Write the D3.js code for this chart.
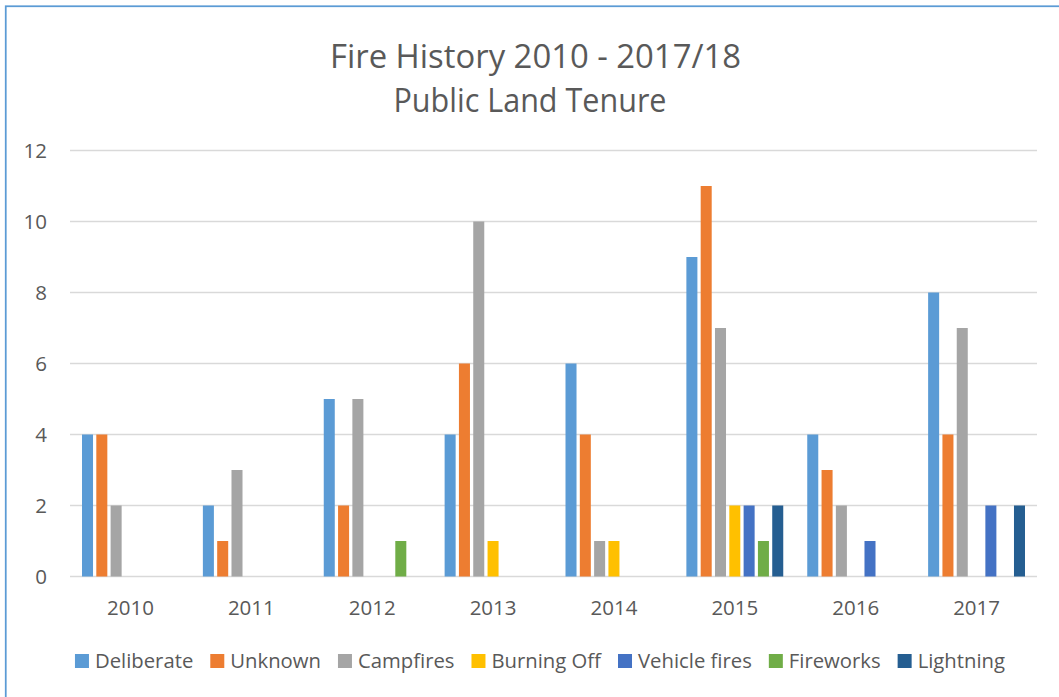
<!DOCTYPE html>
<html lang="en">
<head>
    <meta charset="UTF-8">
    <title>Fire History 2010 - 2017/18</title>
    <script src="https://d3js.org/d3.v7.min.js"></script>
    <style>
        body {
            margin: 0;
            overflow: hidden;
            background: #fff;
        }
        text {
            font-family: "Open Sans", sans-serif;
            fill: #595959;
        }
    </style>
</head>
<body>
    <script>
        // chart data
        const years = ["2010", "2011", "2012", "2013", "2014", "2015", "2016", "2017"];
        const causes = ["Deliberate", "Unknown", "Campfires", "Burning Off", "Vehicle fires", "Fireworks", "Lightning"];
        const colors = ["#5B9BD5", "#ED7D31", "#A5A5A5", "#FFC000", "#4472C4", "#70AD47", "#255E91"];
        const deliberate   = [4, 2, 5, 4, 6, 9, 4, 8];
        const unknown      = [4, 1, 2, 6, 4, 11, 3, 4];
        const campfires    = [2, 3, 5, 10, 1, 7, 2, 7];
        const burningOff   = [0, 0, 0, 1, 1, 2, 0, 0];
        const vehicleFires = [0, 0, 0, 0, 0, 2, 1, 2];
        const fireworks    = [0, 0, 1, 0, 0, 1, 0, 0];
        const lightning    = [0, 0, 0, 0, 0, 2, 0, 2];
        const yTicks = [0, 2, 4, 6, 8, 10, 12];

        const seriesValues = [deliberate, unknown, campfires, burningOff, vehicleFires, fireworks, lightning];

        const width = 1059;
        const height = 697;
        const plot = { left: 70, right: 1037, top: 150.5, bottom: 576.5 };

        const svg = d3.select("body").append("svg")
            .attr("width", width)
            .attr("height", height);

        // frame around the chart
        svg.append("rect")
            .attr("x", 5.75)
            .attr("y", 6.25)
            .attr("width", 1080)
            .attr("height", 720)
            .attr("fill", "none")
            .attr("stroke", "#5B9BD5")
            .attr("stroke-width", 1.75);

        const x0 = d3.scaleBand()
            .domain(years)
            .range([plot.left, plot.right]);

        const x1 = d3.scaleBand()
            .domain(causes)
            .range([12, x0.bandwidth() - 12])
            .paddingInner(0.23);

        const y = d3.scaleLinear()
            .domain([0, 12])
            .range([plot.bottom, plot.top]);

        // gridlines
        svg.append("g")
            .selectAll("line")
            .data(yTicks)
            .enter().append("line")
            .attr("x1", plot.left)
            .attr("x2", plot.right)
            .attr("y1", d => y(d))
            .attr("y2", d => y(d))
            .attr("stroke", "#D9D9D9")
            .attr("stroke-width", 1.3);

        // y axis labels
        const yAxis = svg.append("g")
            .attr("transform", `translate(${plot.left - 23},0)`)
            .call(d3.axisLeft(y).tickValues(yTicks).tickSize(0).tickPadding(0));
        yAxis.select(".domain").remove();
        yAxis.selectAll("text")
            .attr("font-family", "Open Sans, sans-serif")
            .attr("font-size", 20.5)
            .attr("fill", "#595959")
            .attr("dy", "0.36em");

        // x axis labels
        const xAxis = svg.append("g")
            .attr("transform", `translate(0,${plot.bottom})`)
            .call(d3.axisBottom(x0).tickSize(0).tickPadding(0));
        xAxis.select(".domain").remove();
        xAxis.selectAll("text")
            .attr("font-family", "Open Sans, sans-serif")
            .attr("font-size", 20.5)
            .attr("fill", "#595959")
            .attr("dy", "1.87em");

        // bars
        const groups = svg.append("g")
            .selectAll("g")
            .data(years)
            .enter().append("g")
            .attr("transform", d => `translate(${x0(d)},0)`);

        groups.selectAll("rect")
            .data((yr, i) => causes.map((c, k) => ({ cause: c, value: seriesValues[k][i], color: colors[k] })))
            .enter().append("rect")
            .filter(d => d.value > 0)
            .attr("x", d => x1(d.cause))
            .attr("width", x1.bandwidth())
            .attr("y", d => y(d.value))
            .attr("height", d => y(0) - y(d.value))
            .attr("fill", d => d.color);

        // title (two lines)
        svg.append("text")
            .attr("text-anchor", "middle")
            .attr("font-size", 32)
            .attr("x", 535.5)
            .attr("y", 68)
            .attr("textLength", 411)
            .attr("lengthAdjust", "spacingAndGlyphs")
            .text("Fire History 2010 - 2017/18");
        svg.append("text")
            .attr("text-anchor", "middle")
            .attr("font-size", 32)
            .attr("x", 530)
            .attr("y", 111.5)
            .attr("textLength", 273)
            .attr("lengthAdjust", "spacingAndGlyphs")
            .text("Public Land Tenure");

        // legend
        const legend = svg.append("g");
        const items = legend.selectAll("g")
            .data(causes)
            .enter().append("g");
        items.append("rect")
            .attr("width", 14)
            .attr("height", 14)
            .attr("y", 654)
            .attr("fill", (d, i) => colors[i]);
        items.append("text")
            .attr("x", 20)
            .attr("y", 668)
            .attr("font-size", 20.3)
            .text(d => d);

        let pos = 0;
        const offsets = [];
        items.each(function () {
            const w = d3.select(this).select("text").node().getComputedTextLength();
            offsets.push(pos);
            pos += 20 + w + 17;
        });
        const total = pos - 17;
        const start = 540 - total / 2;
        items.attr("transform", (d, i) => `translate(${start + offsets[i]},0)`);
    </script>
</body>
</html>
